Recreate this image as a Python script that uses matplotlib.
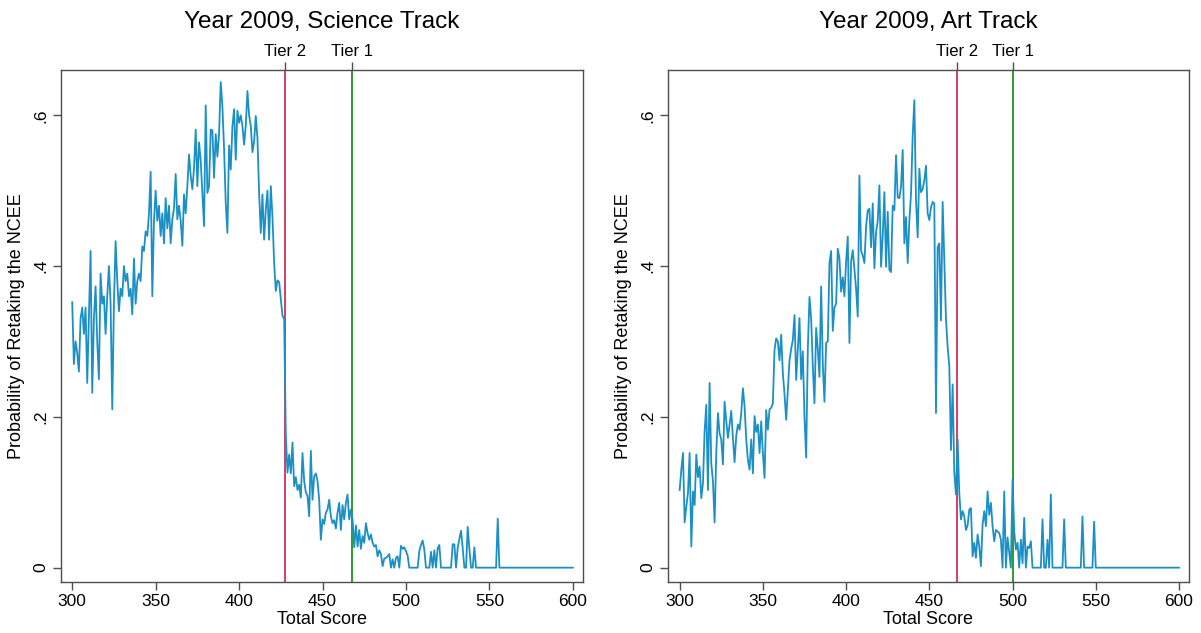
import matplotlib
matplotlib.use('Agg')
import matplotlib.pyplot as plt

plt.rcParams['font.family'] = ['Liberation Sans', 'DejaVu Sans']

# --- DATA ---
score = list(range(300, 601))

sci_retake = [
    0.352, 0.270, 0.300, 0.285, 0.260, 0.330, 0.345, 0.310, 0.345, 0.245,
    0.330, 0.420, 0.232, 0.330, 0.373, 0.300, 0.250, 0.390, 0.350, 0.360,
    0.310, 0.360, 0.400, 0.350, 0.210, 0.350, 0.433, 0.380, 0.340, 0.370,
    0.360, 0.400, 0.380, 0.390, 0.360, 0.370, 0.336, 0.410, 0.350, 0.380,
    0.390, 0.380, 0.426, 0.420, 0.446, 0.440, 0.470, 0.525, 0.360, 0.460,
    0.500, 0.460, 0.480, 0.440, 0.470, 0.430, 0.490, 0.450, 0.480, 0.430,
    0.462, 0.477, 0.522, 0.462, 0.480, 0.460, 0.427, 0.495, 0.470, 0.506,
    0.548, 0.520, 0.502, 0.530, 0.581, 0.506, 0.564, 0.540, 0.497, 0.453,
    0.613, 0.497, 0.506, 0.581, 0.580, 0.517, 0.575, 0.545, 0.575, 0.644,
    0.612, 0.555, 0.484, 0.444, 0.560, 0.528, 0.585, 0.608, 0.541, 0.606,
    0.590, 0.600, 0.586, 0.561, 0.586, 0.632, 0.600, 0.586, 0.551, 0.565,
    0.599, 0.570, 0.497, 0.444, 0.495, 0.435, 0.475, 0.500, 0.435, 0.506,
    0.465, 0.405, 0.367, 0.381, 0.379, 0.356, 0.334, 0.330, 0.176, 0.126,
    0.150, 0.125, 0.166, 0.108, 0.120, 0.103, 0.110, 0.093, 0.152, 0.115,
    0.100, 0.095, 0.068, 0.155, 0.090, 0.121, 0.125, 0.115, 0.090, 0.037,
    0.064, 0.058, 0.073, 0.077, 0.090, 0.068, 0.059, 0.063, 0.052, 0.073,
    0.086, 0.050, 0.083, 0.064, 0.086, 0.097, 0.064, 0.077, 0.064, 0.027,
    0.056, 0.028, 0.050, 0.025, 0.042, 0.033, 0.059, 0.046, 0.037, 0.044,
    0.033, 0.028, 0.030, 0.015, 0.023, 0.018, 0.002, 0.012, 0.013, 0.015,
    0.018, 0.000, 0.011, 0.000, 0.013, 0.015, 0.000, 0.029, 0.025, 0.027,
    0.022, 0.016, 0.000, 0.000, 0.000, 0.000, 0.000, 0.000, 0.022, 0.030,
    0.036, 0.024, 0.000, 0.000, 0.000, 0.021, 0.000, 0.023, 0.000, 0.026,
    0.030, 0.000, 0.000, 0.000, 0.000, 0.000, 0.000, 0.000, 0.031, 0.031,
    0.000, 0.026, 0.038, 0.049, 0.026, 0.000, 0.000, 0.054, 0.025, 0.000,
    0.000, 0.027, 0.000, 0.000, 0.000, 0.000, 0.000, 0.000, 0.000, 0.000,
    0.000, 0.000, 0.000, 0.000, 0.000, 0.065, 0.000, 0.000, 0.000, 0.000,
    0.000, 0.000, 0.000, 0.000, 0.000, 0.000, 0.000, 0.000, 0.000, 0.000,
    0.000, 0.000, 0.000, 0.000, 0.000, 0.000, 0.000, 0.000, 0.000, 0.000,
    0.000, 0.000, 0.000, 0.000, 0.000, 0.000, 0.000, 0.000, 0.000, 0.000,
    0.000, 0.000, 0.000, 0.000, 0.000, 0.000, 0.000, 0.000, 0.000, 0.000,
    0.000,
]

art_retake = [
    0.103, 0.130, 0.152, 0.060, 0.081, 0.099, 0.152, 0.028, 0.101, 0.083,
    0.150, 0.120, 0.134, 0.092, 0.112, 0.181, 0.216, 0.103, 0.245, 0.138,
    0.115, 0.060, 0.152, 0.205, 0.178, 0.170, 0.137, 0.220, 0.195, 0.172,
    0.190, 0.208, 0.172, 0.140, 0.175, 0.190, 0.183, 0.205, 0.238, 0.214,
    0.170, 0.143, 0.130, 0.170, 0.125, 0.201, 0.180, 0.190, 0.152, 0.194,
    0.152, 0.119, 0.209, 0.183, 0.210, 0.212, 0.218, 0.289, 0.304, 0.300,
    0.275, 0.309, 0.258, 0.230, 0.196, 0.236, 0.275, 0.290, 0.302, 0.335,
    0.249, 0.290, 0.331, 0.250, 0.287, 0.200, 0.146, 0.290, 0.359, 0.330,
    0.267, 0.218, 0.318, 0.290, 0.253, 0.373, 0.270, 0.220, 0.298, 0.300,
    0.404, 0.420, 0.314, 0.345, 0.350, 0.423, 0.410, 0.366, 0.385, 0.360,
    0.406, 0.439, 0.298, 0.406, 0.421, 0.395, 0.370, 0.333, 0.520, 0.420,
    0.414, 0.404, 0.452, 0.474, 0.476, 0.425, 0.483, 0.397, 0.445, 0.460,
    0.507, 0.399, 0.440, 0.498, 0.399, 0.472, 0.395, 0.392, 0.480, 0.474,
    0.547, 0.491, 0.490, 0.505, 0.554, 0.430, 0.465, 0.404, 0.460, 0.496,
    0.573, 0.620, 0.487, 0.438, 0.529, 0.498, 0.502, 0.514, 0.533, 0.470,
    0.461, 0.478, 0.485, 0.483, 0.205, 0.425, 0.430, 0.328, 0.485, 0.408,
    0.330, 0.293, 0.267, 0.156, 0.243, 0.126, 0.097, 0.170, 0.099, 0.064,
    0.075, 0.068, 0.050, 0.056, 0.077, 0.079, 0.015, 0.033, 0.013, 0.044,
    0.028, 0.002, 0.057, 0.075, 0.055, 0.101, 0.070, 0.086, 0.055, 0.035,
    0.050, 0.048, 0.046, 0.037, 0.000, 0.101, 0.000, 0.040, 0.020, 0.000,
    0.117, 0.048, 0.024, 0.033, 0.000, 0.037, 0.006, 0.066, 0.000, 0.028,
    0.026, 0.035, 0.000, 0.000, 0.000, 0.000, 0.000, 0.000, 0.064, 0.000,
    0.000, 0.037, 0.000, 0.097, 0.000, 0.000, 0.000, 0.000, 0.000, 0.000,
    0.000, 0.064, 0.000, 0.000, 0.000, 0.000, 0.000, 0.000, 0.000, 0.000,
    0.000, 0.000, 0.068, 0.000, 0.000, 0.000, 0.000, 0.000, 0.000, 0.061,
    0.000, 0.000, 0.000, 0.000, 0.000, 0.000, 0.000, 0.000, 0.000, 0.000,
    0.000, 0.000, 0.000, 0.000, 0.000, 0.000, 0.000, 0.000, 0.000, 0.000,
    0.000, 0.000, 0.000, 0.000, 0.000, 0.000, 0.000, 0.000, 0.000, 0.000,
    0.000, 0.000, 0.000, 0.000, 0.000, 0.000, 0.000, 0.000, 0.000, 0.000,
    0.000, 0.000, 0.000, 0.000, 0.000, 0.000, 0.000, 0.000, 0.000, 0.000,
    0.000,
]

titles = ["Year 2009, Science Track", "Year 2009, Art Track"]
tier_cutoffs = [(427.4, 467.6), (466.6, 500.5)]   # (Tier 2, Tier 1)
tier_labels = ["Tier 2", "Tier 1"]
x_ticks = [300, 350, 400, 450, 500, 550, 600]
y_ticks = [0, 0.2, 0.4, 0.6]
y_tick_labels = ["0", ".2", ".4", ".6"]

LINE_COLOR = '#1a90c6'
TIER2_COLOR = '#d01c48'
TIER1_COLOR = '#0b8a0b'
FRAME_COLOR = '#4d4d4d'

fig = plt.figure(figsize=(12.01, 6.33), dpi=100)
positions = [[0.0504, 0.0806, 0.4349, 0.8088], [0.5562, 0.0806, 0.4338, 0.8088]]

for pos, title, series, (t2, t1) in zip(positions, titles, [sci_retake, art_retake], tier_cutoffs):
    ax = fig.add_axes(pos)
    ax.plot(score, series, color=LINE_COLOR, linewidth=1.3, zorder=3)
    ax.axvline(t2, color=TIER2_COLOR, linewidth=1.2, zorder=2)
    ax.axvline(t1, color=TIER1_COLOR, linewidth=1.2, zorder=2)

    ax.set_xlim(293, 606)
    ax.set_ylim(-0.019, 0.66)
    ax.set_xticks(x_ticks)
    ax.set_yticks(y_ticks)
    ax.set_yticklabels(y_tick_labels, rotation=90, va='center')
    ax.tick_params(axis='both', labelsize=12.5, length=6, width=1, color=FRAME_COLOR, pad=3)
    for sp in ax.spines.values():
        sp.set_color(FRAME_COLOR)
        sp.set_linewidth(1.0)
    ax.set_xlabel("Total Score", fontsize=13, labelpad=1)
    ax.set_ylabel("Probability of Retaking the NCEE", fontsize=13, labelpad=6)

    top = ax.secondary_xaxis('top')
    top.set_xticks([t2, t1])
    top.set_xticklabels(tier_labels)
    top.tick_params(labelsize=12, length=6, width=1, color=FRAME_COLOR, pad=2)
    top.spines['top'].set_visible(False)

    fig.text(pos[0] + pos[2] / 2, 0.966, title, ha='center', va='center', fontsize=17.5)

fig.savefig('out.png', dpi=100, facecolor='white')
